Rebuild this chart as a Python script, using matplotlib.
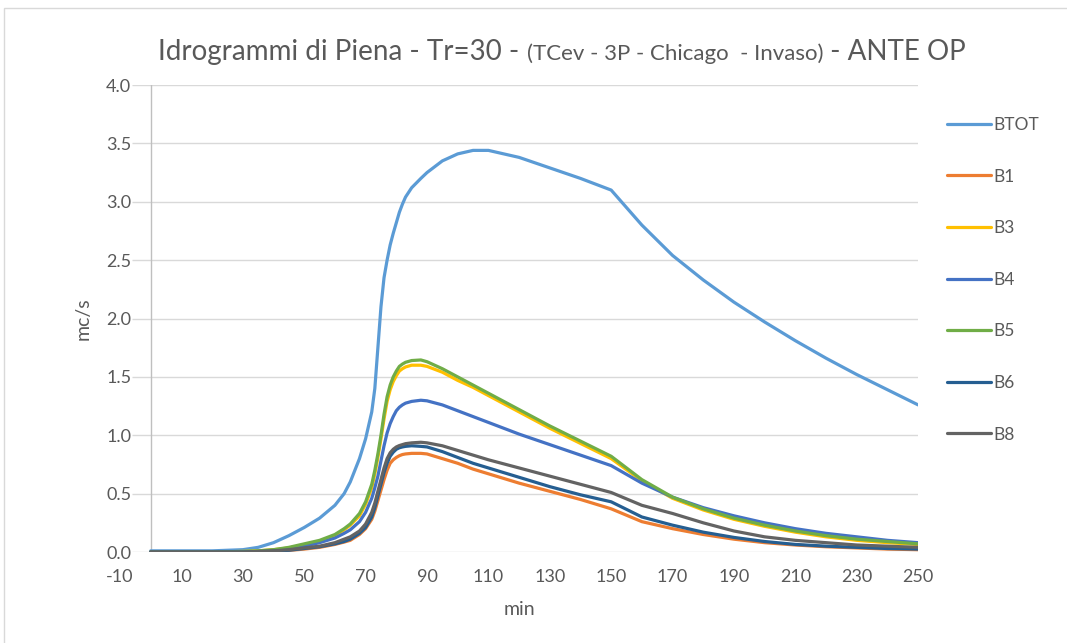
import matplotlib.pyplot as plt
from matplotlib.patches import Rectangle

plt.rcParams['font.family'] = ['Lato', 'DejaVu Sans']
plt.rcParams['axes.unicode_minus'] = False

# tempi (min)
t = [0, 10, 20, 30, 35, 40, 45, 50, 55, 60, 63, 65, 68, 70, 72, 73, 74, 75, 76, 77, 78, 79,
     80, 81, 82, 83, 85, 88, 90, 95, 100, 105, 110, 120, 130, 140, 150, 160, 170, 180, 190,
     200, 210, 220, 230, 240, 250]

# portate (mc/s)
BTOT = [0.01, 0.01, 0.01, 0.02, 0.04, 0.08, 0.14, 0.21, 0.29, 0.40, 0.50, 0.60, 0.80, 0.97,
        1.20, 1.40, 1.75, 2.10, 2.35, 2.50, 2.63, 2.73, 2.82, 2.91, 2.98, 3.04, 3.12, 3.20,
        3.25, 3.35, 3.41, 3.44, 3.44, 3.38, 3.29, 3.20, 3.10, 2.80, 2.54, 2.33, 2.14, 1.97,
        1.81, 1.66, 1.52, 1.39, 1.26]
B1 = [0, 0, 0, 0, 0.003, 0.007, 0.014, 0.025, 0.04, 0.065, 0.085, 0.10, 0.15, 0.20, 0.28,
      0.35, 0.44, 0.53, 0.62, 0.70, 0.76, 0.79, 0.81, 0.825, 0.835, 0.84, 0.845, 0.845, 0.84,
      0.80, 0.76, 0.71, 0.67, 0.59, 0.52, 0.45, 0.37, 0.26, 0.20, 0.15, 0.11, 0.08, 0.06,
      0.045, 0.035, 0.025, 0.02]
B3 = [0, 0, 0, 0.005, 0.01, 0.02, 0.035, 0.06, 0.09, 0.14, 0.19, 0.23, 0.31, 0.41, 0.55,
      0.67, 0.81, 0.97, 1.14, 1.29, 1.39, 1.46, 1.51, 1.55, 1.57, 1.585, 1.60, 1.60, 1.59,
      1.54, 1.47, 1.41, 1.34, 1.20, 1.06, 0.93, 0.80, 0.61, 0.46, 0.36, 0.28, 0.22, 0.17,
      0.13, 0.10, 0.08, 0.065]
B4 = [0, 0, 0, 0, 0.005, 0.015, 0.03, 0.05, 0.08, 0.12, 0.16, 0.19, 0.26, 0.34, 0.46, 0.55,
      0.65, 0.78, 0.91, 1.02, 1.10, 1.16, 1.21, 1.24, 1.26, 1.275, 1.29, 1.30, 1.295, 1.26,
      1.21, 1.16, 1.11, 1.01, 0.92, 0.83, 0.74, 0.59, 0.47, 0.38, 0.31, 0.25, 0.20, 0.16,
      0.13, 0.10, 0.08]
B5 = [0, 0, 0, 0.005, 0.01, 0.02, 0.04, 0.07, 0.10, 0.15, 0.20, 0.24, 0.33, 0.43, 0.58,
      0.70, 0.84, 1.00, 1.18, 1.33, 1.43, 1.50, 1.55, 1.59, 1.61, 1.625, 1.64, 1.645, 1.63,
      1.57, 1.50, 1.43, 1.36, 1.22, 1.08, 0.95, 0.82, 0.62, 0.47, 0.37, 0.29, 0.23, 0.18,
      0.14, 0.11, 0.09, 0.07]
B6 = [0, 0, 0, 0, 0.003, 0.008, 0.015, 0.03, 0.045, 0.07, 0.09, 0.11, 0.16, 0.21, 0.30,
      0.38, 0.48, 0.58, 0.68, 0.76, 0.82, 0.855, 0.88, 0.893, 0.90, 0.905, 0.91, 0.905, 0.90,
      0.86, 0.81, 0.76, 0.72, 0.64, 0.56, 0.49, 0.43, 0.30, 0.23, 0.17, 0.125, 0.09, 0.065,
      0.05, 0.04, 0.03, 0.025]
B8 = [0, 0, 0, 0, 0.005, 0.01, 0.02, 0.035, 0.05, 0.08, 0.11, 0.13, 0.18, 0.24, 0.34, 0.42,
      0.52, 0.62, 0.72, 0.80, 0.85, 0.88, 0.90, 0.912, 0.92, 0.928, 0.935, 0.94, 0.935, 0.91,
      0.87, 0.83, 0.79, 0.72, 0.65, 0.58, 0.51, 0.40, 0.33, 0.25, 0.18, 0.13, 0.10, 0.08,
      0.06, 0.05, 0.04]

serie = [("BTOT", BTOT, "#5B9BD5"), ("B1", B1, "#ED7D31"), ("B3", B3, "#FFC000"),
         ("B4", B4, "#4472C4"), ("B5", B5, "#70AD47"), ("B6", B6, "#255E91"),
         ("B8", B8, "#636363")]

xticks = list(range(-10, 251, 20))
yticks = [0.0, 0.5, 1.0, 1.5, 2.0, 2.5, 3.0, 3.5, 4.0]
grigio = "#595959"

fig = plt.figure(figsize=(10.67, 6.43), dpi=100)
ax = fig.add_axes([0.1125, 0.1415, 0.748, 0.7263])

# griglia orizzontale (parte da poco a sinistra dell'asse verticale)
ax.hlines(yticks, -6, 250, color="#D9D9D9", lw=1, zorder=1)
ax.axvline(0, color="#BFBFBF", lw=1, zorder=1)

for nome, y, col in serie:
    ax.plot(t, y, color=col, lw=2.3, label=nome, solid_capstyle="round",
            solid_joinstyle="round", zorder=3)

ax.set_xlim(-10, 250)
ax.set_ylim(0, 4.0)
ax.set_xticks(xticks)
ax.set_yticks(yticks)
ax.set_yticklabels([f"{v:.1f}" for v in yticks])
for s in ax.spines.values():
    s.set_visible(False)
ax.tick_params(axis="x", length=0, pad=12, labelsize=13, labelcolor=grigio)
ax.tick_params(axis="y", length=0, pad=-8, labelsize=13, labelcolor=grigio)
ax.set_xlabel("min", fontsize=14, color=grigio, labelpad=12)
ax.set_ylabel("mc/s", fontsize=14, color=grigio, labelpad=10)

leg = ax.legend(loc="upper left", bbox_to_anchor=(1.017, 0.965), frameon=False,
                fontsize=12.5, labelspacing=2.05, handlelength=2.5, handletextpad=0.15,
                labelcolor=grigio)

# titolo composto: parte centrale in carattere piu piccolo
pezzi = [("Idrogrammi di Piena - Tr=30 - ", 20), ("(TCev - 3P - Chicago  - Invaso)", 16),
         (" - ANTE OP", 20)]
fig.canvas.draw()
r = fig.canvas.get_renderer()
testi = [fig.text(0, 0.9067, s, fontsize=fs, color=grigio, va="baseline") for s, fs in pezzi]
larg = [tt.get_window_extent(r).width for tt in testi]
x0 = 562 - sum(larg) / 2
for tt, w in zip(testi, larg):
    tt.set_x(x0 / 1067)
    x0 += w

# bordo dell'area grafico
fig.patches.append(Rectangle((4 / 1067, -0.01), 1.02, 1 - 8 / 643 + 0.01, transform=fig.transFigure,
                             fill=False, edgecolor="#D9D9D9", lw=1))

fig.savefig("out.png", dpi=100)
